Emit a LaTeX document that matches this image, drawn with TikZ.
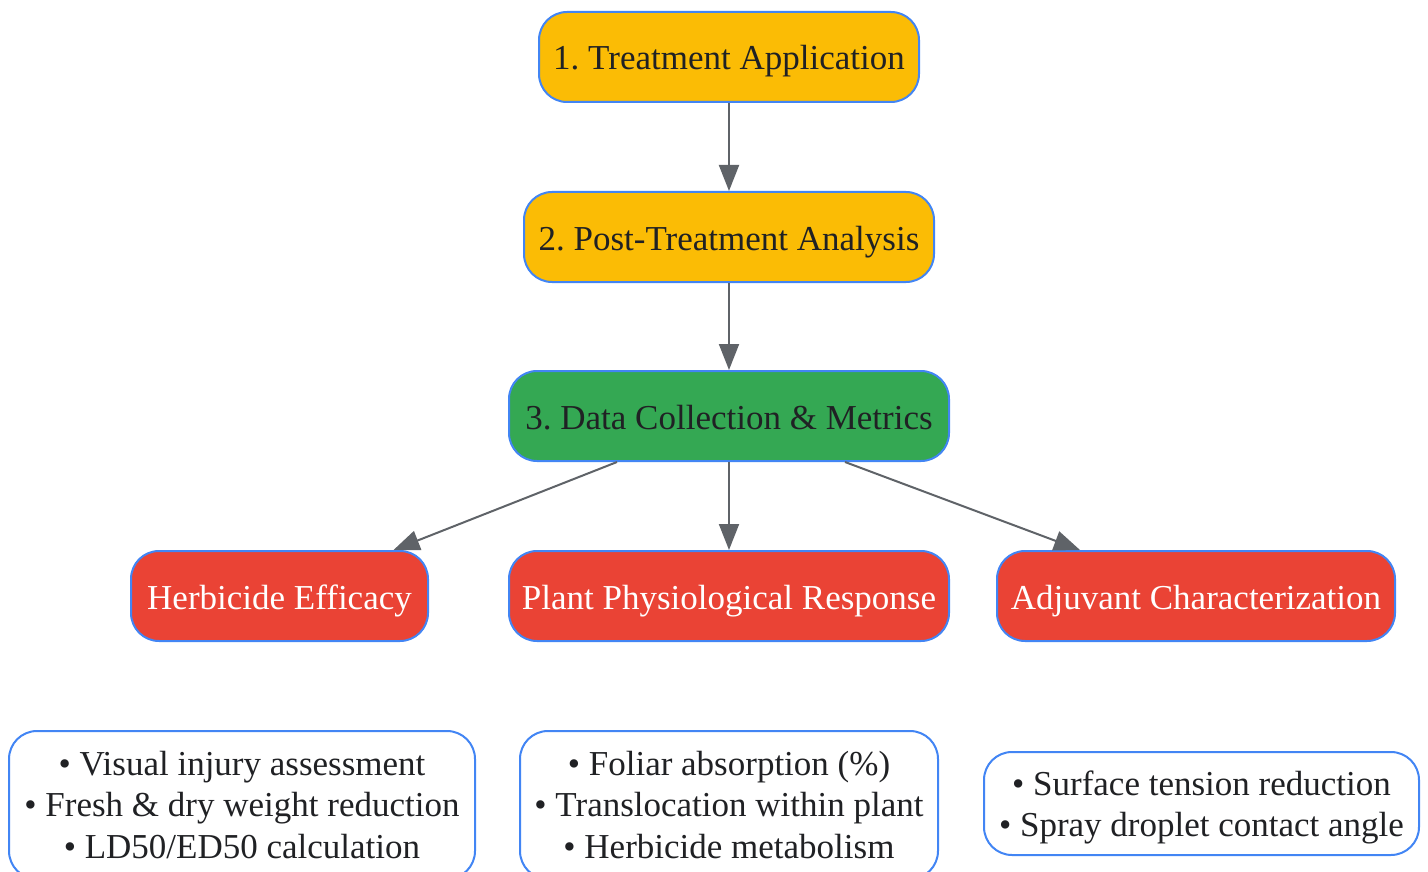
\documentclass[tikz,border=0pt]{standalone}
\usepackage{fontspec}
\setmainfont{Liberation Serif}
\usetikzlibrary{arrows.meta}
\frenchspacing
\definecolor{bordblue}{HTML}{4285F4}
\definecolor{gyellow}{HTML}{FBBC05}
\definecolor{ggreen}{HTML}{34A853}
\definecolor{gred}{HTML}{EA4335}
\definecolor{txtdark}{HTML}{202124}
\definecolor{arrgray}{HTML}{5F6368}
\tikzset{
  box/.style={draw=bordblue, line width=2pt, rounded corners=28pt, inner sep=0pt,
    font=\fontsize{35}{41.5}\selectfont\frenchspacing, align=center},
  onerow/.style={minimum height=90pt, text height=30pt, text depth=4pt},
  yellowbox/.style={box, onerow, fill=gyellow, text=txtdark},
  greenbox/.style={box, onerow, fill=ggreen, text=txtdark},
  redbox/.style={box, onerow, fill=gred, text=white},
  listbox/.style={box, fill=white, text=txtdark},
  conn/.style={draw=arrgray, line width=2pt, -{Triangle[length=26pt,width=20pt]}}
}
\begin{document}
\begin{tikzpicture}[x=1pt,y=-1pt]
\useasboundingbox (0,0) rectangle (1428,872);
\clip (0,0) rectangle (1428,872);
\node[yellowbox, minimum width=380pt] (n1) at (729,57) {1. Treatment Application};
\node[yellowbox, minimum width=410pt] (n2) at (729,237) {2. Post-Treatment Analysis};
\node[greenbox, minimum width=440pt] (n3) at (729,416) {3. Data Collection \& Metrics};
\node[redbox, minimum width=297pt] (herb) at (279.5,596) {Herbicide Efficacy};
\node[redbox, minimum width=440pt] (phys) at (729,596) {Plant Physiological Response};
\node[redbox, minimum width=398pt] (adj) at (1196,596) {Adjuvant Characterization};
\node[listbox, minimum width=466pt, minimum height=148pt] (l1) at (242,805)
  {• Visual injury assessment\\• Fresh \& dry weight reduction\\• LD50/ED50 calculation};
\node[listbox, minimum width=418pt, minimum height=148pt] (l2) at (729,805)
  {• Foliar absorption (\%)\\• Translocation within plant\\• Herbicide metabolism};
\node[listbox, minimum width=435pt, minimum height=103pt] (l3) at (1201.5,803.5)
  {\raisebox{-4pt}[\height][\depth]{\begin{tabular}{@{}c@{}}• Surface tension reduction\\• Spray droplet contact angle\end{tabular}}};
\draw[conn] (n1) -- (n2);
\draw[conn] (n2) -- (n3);
\draw[conn] ([xshift=-112pt]n3.south) -- ([xshift=114pt]herb.north);
\draw[conn] (n3) -- (phys);
\draw[conn] ([xshift=116pt]n3.south) -- ([xshift=-116pt]adj.north);
\end{tikzpicture}
\end{document}
